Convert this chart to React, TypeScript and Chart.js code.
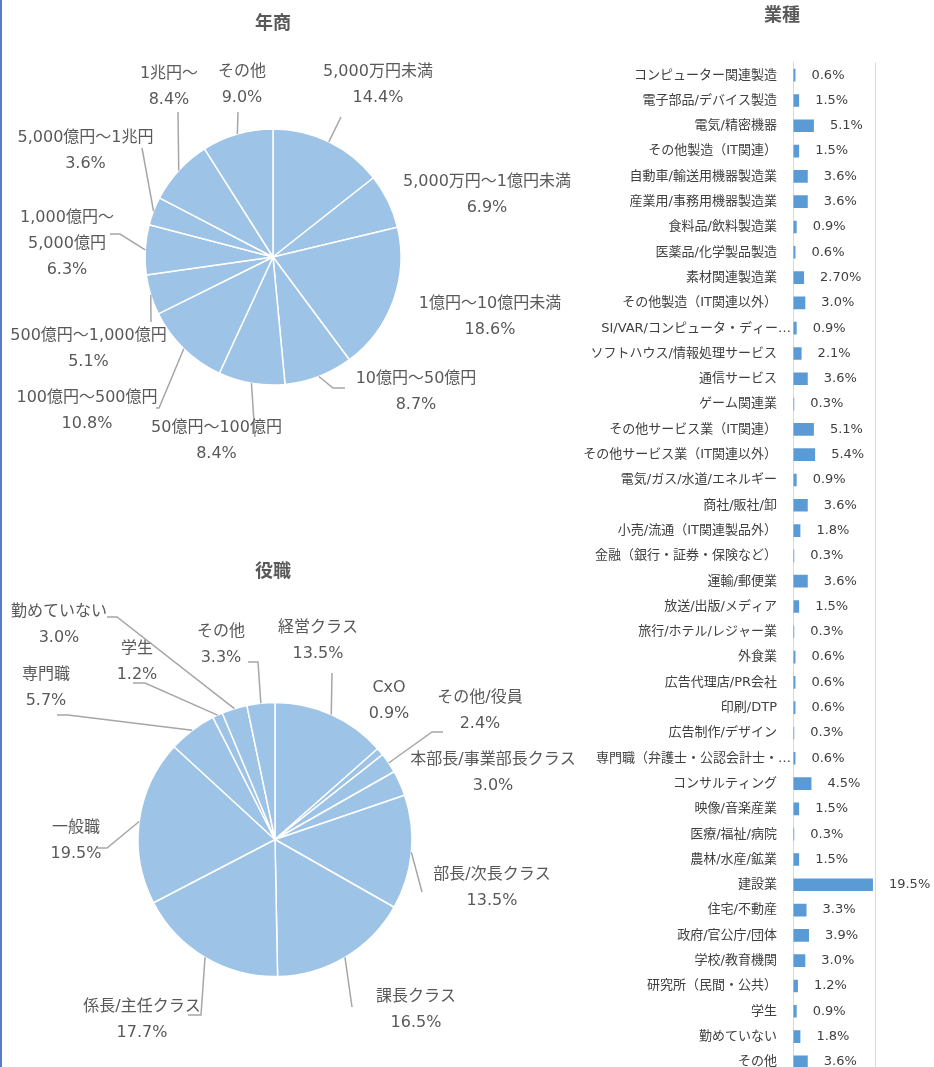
import React, { useEffect, useRef } from 'react';
import { Chart, registerables } from 'chart.js';

Chart.register(...registerables);

// ---------- DATA ----------
const revenueCategories = [
  '5,000万円未満', '5,000万円～1億円未満', '1億円～10億円未満', '10億円～50億円', '50億円～100億円',
  '100億円～500億円', '500億円～1,000億円', '1,000億円～\n5,000億円', '5,000億円～1兆円', '1兆円～', 'その他',
];
const revenueValues = [14.4, 6.9, 18.6, 8.7, 8.4, 10.8, 5.1, 6.3, 3.6, 8.4, 9.0];

const positionCategories = [
  '経営クラス', 'CxO', 'その他/役員', '本部長/事業部長クラス', '部長/次長クラス', '課長クラス',
  '係長/主任クラス', '一般職', '専門職', '学生', '勤めていない', 'その他',
];
const positionValues = [13.5, 0.9, 2.4, 3.0, 13.5, 16.5, 17.7, 19.5, 5.7, 1.2, 3.0, 3.3];

const industryCategories = [
  'コンピューター関連製造', '電子部品/デバイス製造', '電気/精密機器', 'その他製造（IT関連）',
  '自動車/輸送用機器製造業', '産業用/事務用機器製造業', '食料品/飲料製造業', '医薬品/化学製品製造',
  '素材関連製造業', 'その他製造（IT関連以外）', 'SI/VAR/コンピュータ・ディー…', 'ソフトハウス/情報処理サービス',
  '通信サービス', 'ゲーム関連業', 'その他サービス業（IT関連）', 'その他サービス業（IT関連以外）',
  '電気/ガス/水道/エネルギー', '商社/販社/卸', '小売/流通（IT関連製品外）', '金融（銀行・証券・保険など）',
  '運輸/郵便業', '放送/出版/メディア', '旅行/ホテル/レジャー業', '外食業',
  '広告代理店/PR会社', '印刷/DTP', '広告制作/デザイン', '専門職（弁護士・公認会計士・…',
  'コンサルティング', '映像/音楽産業', '医療/福祉/病院', '農林/水産/鉱業',
  '建設業', '住宅/不動産', '政府/官公庁/団体', '学校/教育機関',
  '研究所（民間・公共）', '学生', '勤めていない', 'その他',
];
const industryValues = [
  0.6, 1.5, 5.1, 1.5, 3.6, 3.6, 0.9, 0.6,
  2.7, 3.0, 0.9, 2.1, 3.6, 0.3, 5.1, 5.4,
  0.9, 3.6, 1.8, 0.3, 3.6, 1.5, 0.3, 0.6,
  0.6, 0.6, 0.3, 0.6, 4.5, 1.5, 0.3, 1.5,
  19.5, 3.3, 3.9, 3.0, 1.2, 0.9, 1.8, 3.6,
];
const industryValueTextOverrides: Record<number, string> = { 8: '2.70%' };
const industryAxisMax = 20;

// ---------- LABEL LAYOUT (offsets from pie centre, not data) ----------
const revenueLabelLayout: [number, number][] = [
  [105, -185], [214, -75], [217, 47], [143, 122], [-56.5, 171], [-186, 141],
  [-184.5, 79], [-206, -39], [-187.5, -119], [-104, -183], [-31, -185],
];
const revenueLeaderLayout: [number, number][][] = [
  [[68, -140]], [], [], [[60, 131], [72, 131]], [[-18, 180]], [[-114, 151], [-117, 151]],
  [[-122, 65]], [[-153, -23], [-163, -23]], [[-131, -109]], [[-95, -145]], [[-35, -145]],
];
const positionLabelLayout: [number, number][] = [
  [43, -211.5], [114, -151.5], [205, -141.5], [218, -79.5], [217, 35.5], [141, 157.5],
  [-133, 167.5], [-199, -11.5], [-229, -164.5], [-138, -190.5], [-216, -227.5], [-54, -207.5],
];
const positionLeaderLayout: [number, number][][] = [
  [[57, -166.5]], [], [[157, -107.5], [168, -107.5]], [], [[147, 52.5]], [[77, 167.5]],
  [[-74, 175.5], [-87, 175.5]], [[-168, 8.5], [-178, 8.5]], [[-207, -124.5], [-218, -124.5]],
  [[-130, -156.5], [-142, -156.5]], [[-158, -222.5], [-168, -222.5]], [[-17, -177.5], [-27, -177.5]],
];

const FONT = '"DejaVu Sans", "Noto Sans CJK JP", sans-serif';
const PIE_COLOR = '#9dc3e6';
const BAR_COLOR = '#5b9bd5';

function titlePlugin(text: string, x: number, y: number) {
  return {
    id: 'customTitle',
    afterDraw(chart: any) {
      const ctx = chart.ctx;
      ctx.save();
      ctx.font = `bold 18px ${FONT}`;
      ctx.fillStyle = '#595959';
      ctx.textAlign = 'center';
      ctx.textBaseline = 'middle';
      ctx.fillText(text, x, y);
      ctx.restore();
    },
  };
}

function pieLabelPlugin(
  categories: string[],
  values: number[],
  labelLayout: [number, number][],
  leaderLayout: [number, number][][],
) {
  return {
    id: 'pieLabels',
    afterDraw(chart: any) {
      const ctx = chart.ctx;
      const meta = chart.getDatasetMeta(0);
      ctx.save();
      meta.data.forEach((arc: any, i: number) => {
        const { x, y, startAngle, endAngle, outerRadius } = arc.getProps(
          ['x', 'y', 'startAngle', 'endAngle', 'outerRadius'],
          true,
        );
        const mid = (startAngle + endAngle) / 2;
        const sx = x + Math.cos(mid) * outerRadius;
        const sy = y + Math.sin(mid) * outerRadius;
        const pts = leaderLayout[i] || [];
        if (pts.length) {
          ctx.beginPath();
          ctx.moveTo(sx, sy);
          pts.forEach(([dx, dy]) => ctx.lineTo(x + dx, y + dy));
          ctx.strokeStyle = '#a6a6a6';
          ctx.lineWidth = 1.5;
          ctx.stroke();
        }
        const lines = [...categories[i].split('\n'), values[i].toFixed(1) + '%'];
        const [dx, dy] = labelLayout[i];
        ctx.font = `16px ${FONT}`;
        ctx.fillStyle = '#595959';
        ctx.textAlign = 'center';
        ctx.textBaseline = 'middle';
        lines.forEach((t, j) => ctx.fillText(t, x + dx, y + dy + j * 26));
      });
      ctx.restore();
    },
  };
}

const barLabelPlugin = {
  id: 'barLabels',
  afterDraw(chart: any) {
    const ctx = chart.ctx;
    const meta = chart.getDatasetMeta(0);
    const yScale = chart.scales.y;
    ctx.save();
    ctx.font = `13px ${FONT}`;
    ctx.fillStyle = '#404040';
    ctx.textBaseline = 'middle';
    meta.data.forEach((bar: any, i: number) => {
      const { x, y } = bar.getProps(['x', 'y'], true);
      const txt = industryValueTextOverrides[i] ?? industryValues[i].toFixed(1) + '%';
      ctx.textAlign = 'left';
      ctx.fillText(txt, x + 16, y);
      const label = industryCategories[i];
      const rx = yScale.right - (label.endsWith('…') ? 2 : 16);
      ctx.textAlign = 'right';
      ctx.fillText(label, rx, y);
    });
    ctx.restore();
  },
};

function pieConfig(
  title: string,
  titleX: number,
  titleY: number,
  categories: string[],
  values: number[],
  radius: number,
  padding: any,
  labelLayout: [number, number][],
  leaderLayout: [number, number][][],
): any {
  return {
    type: 'pie',
    data: {
      labels: categories,
      datasets: [
        {
          data: values,
          backgroundColor: PIE_COLOR,
          borderColor: '#ffffff',
          borderWidth: 1.5,
          radius,
        },
      ],
    },
    options: {
      responsive: false,
      animation: false,
      events: [],
      layout: { padding },
      plugins: { legend: { display: false }, tooltip: { enabled: false }, title: { display: false } },
    },
    plugins: [titlePlugin(title, titleX, titleY), pieLabelPlugin(categories, values, labelLayout, leaderLayout)],
  };
}

export default function App() {
  const pie1 = useRef<HTMLCanvasElement>(null);
  const pie2 = useRef<HTMLCanvasElement>(null);
  const bar = useRef<HTMLCanvasElement>(null);

  useEffect(() => {
    const charts: Chart[] = [];
    if (pie1.current) {
      charts.push(
        new Chart(
          pie1.current,
          pieConfig('年商', 273, 24, revenueCategories, revenueValues, 128,
            { left: 0, right: 34, top: 0, bottom: 0 }, revenueLabelLayout, revenueLeaderLayout),
        ),
      );
    }
    if (pie2.current) {
      charts.push(
        new Chart(
          pie2.current,
          pieConfig('役職', 273, 32, positionCategories, positionValues, 137,
            { left: 0, right: 30, top: 72, bottom: 0 }, positionLabelLayout, positionLeaderLayout),
        ),
      );
    }
    if (bar.current) {
      charts.push(
        new Chart(bar.current, {
          type: 'bar',
          data: {
            labels: industryCategories,
            datasets: [
              {
                data: industryValues,
                backgroundColor: BAR_COLOR,
                categoryPercentage: 0.5,
                barPercentage: 1.0,
              },
            ],
          },
          options: {
            indexAxis: 'y',
            responsive: false,
            animation: false,
            events: [],
            layout: { padding: { left: 0, right: 59, top: 62.5, bottom: 5.5 } },
            scales: {
              x: {
                min: 0,
                max: industryAxisMax,
                ticks: { display: false, stepSize: industryAxisMax },
                grid: { color: '#d9d9d9', drawTicks: false },
                border: { display: false },
                afterFit: (s: any) => { s.height = 0; },
              },
              y: {
                type: 'category',
                ticks: { display: false },
                grid: { display: false, drawTicks: false },
                border: { display: true, color: '#d9d9d9' },
                afterFit: (s: any) => { s.width = 223; },
              },
            },
            plugins: { legend: { display: false }, tooltip: { enabled: false }, title: { display: false } },
          } as any,
          plugins: [titlePlugin('業種', 212, 16), barLabelPlugin],
        }),
      );
    }
    return () => charts.forEach((c) => c.destroy());
  }, []);

  return (
    <div style={{ position: 'fixed', left: 0, top: 0, width: 934, height: 1067, overflow: 'hidden', background: '#ffffff' }}>
      <div style={{ position: 'absolute', left: 0, top: 0, width: 2, height: 1067, background: '#5a7bc6' }} />
      <canvas ref={pie1} width={580} height={514} style={{ position: 'absolute', left: 0, top: 0, width: 580, height: 514 }} />
      <canvas ref={pie2} width={580} height={527} style={{ position: 'absolute', left: 0, top: 540, width: 580, height: 527 }} />
      <canvas ref={bar} width={364} height={1080} style={{ position: 'absolute', left: 570, top: 0, width: 364, height: 1080 }} />
    </div>
  );
}
